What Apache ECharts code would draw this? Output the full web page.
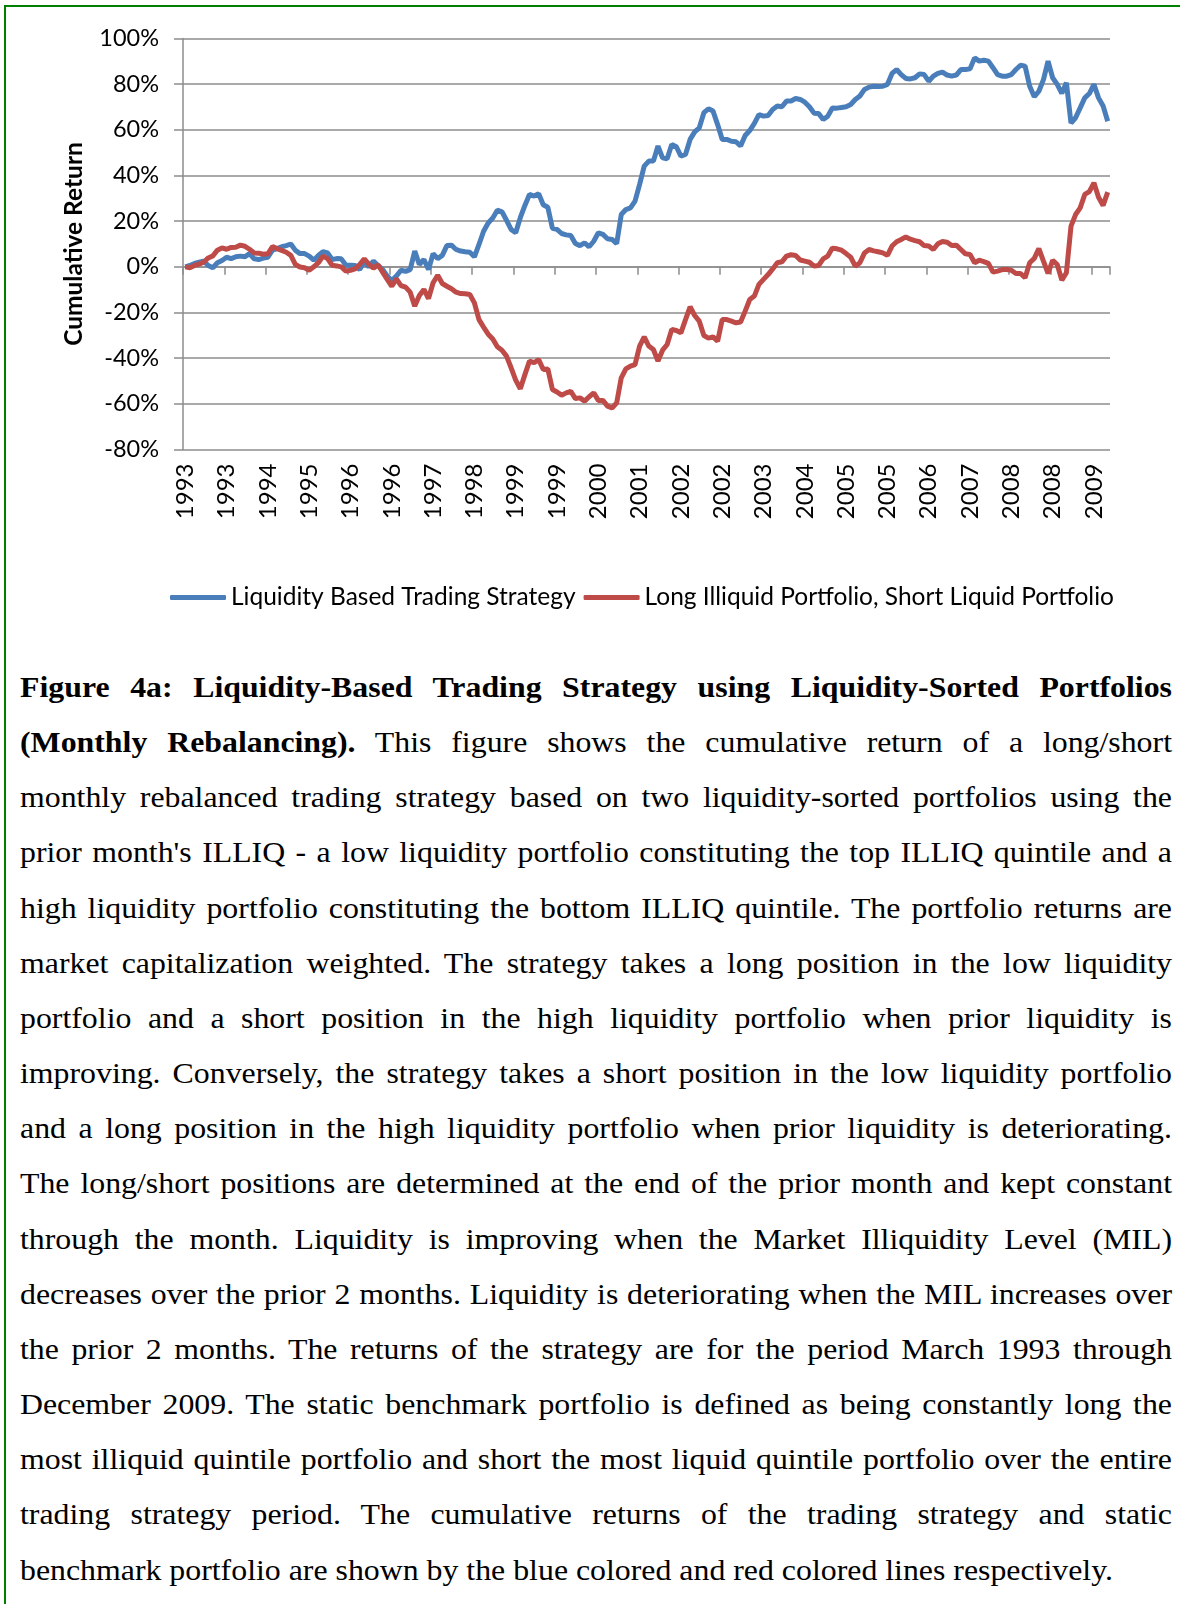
<!DOCTYPE html>
<html>
<head>
<meta charset="utf-8">
<script src="https://cdn.jsdelivr.net/npm/echarts@6.0.0/dist/echarts.min.js"></script>
<style>
  html, body { margin: 0; padding: 0; background: #fff; }
  body { width: 1180px; height: 1604px; position: relative; overflow: hidden; }
  #frame {
    position: absolute; left: 4px; top: 5px; width: 1200px; height: 1700px;
    border-left: 2px solid #008000; border-top: 2px solid #008000;
  }
  #chart { position: absolute; left: 0; top: 0; width: 1180px; height: 640px; }
  #cap {
    position: absolute; left: 20px; top: 660px; width: 1152px;
    font-family: 'Liberation Serif', 'Times New Roman', serif;
    font-size: 28.7px; line-height: 55.15px; color: #000;
  }
  #cap .ln { white-space: nowrap; transform-origin: 0 0; }
</style>
</head>
<body>
<div id="frame"></div>
<div id="chart"></div>
<div id="cap">
  <div class="ln"><span><b>Figure 4a: Liquidity-Based Trading Strategy using Liquidity-Sorted Portfolios</b></span></div>
  <div class="ln"><span><b>(Monthly Rebalancing).</b> This figure shows the cumulative return of a long/short</span></div>
  <div class="ln"><span>monthly rebalanced trading strategy based on two liquidity-sorted portfolios using the</span></div>
  <div class="ln"><span>prior month's ILLIQ - a low liquidity portfolio constituting the top ILLIQ quintile and a</span></div>
  <div class="ln"><span>high liquidity portfolio constituting the bottom ILLIQ quintile. The portfolio returns are</span></div>
  <div class="ln"><span>market capitalization weighted. The strategy takes a long position in the low liquidity</span></div>
  <div class="ln"><span>portfolio and a short position in the high liquidity portfolio when prior liquidity is</span></div>
  <div class="ln"><span>improving. Conversely, the strategy takes a short position in the low liquidity portfolio</span></div>
  <div class="ln"><span>and a long position in the high liquidity portfolio when prior liquidity is deteriorating.</span></div>
  <div class="ln"><span>The long/short positions are determined at the end of the prior month and kept constant</span></div>
  <div class="ln"><span>through the month. Liquidity is improving when the Market Illiquidity Level (MIL)</span></div>
  <div class="ln"><span>decreases over the prior 2 months. Liquidity is deteriorating when the MIL increases over</span></div>
  <div class="ln"><span>the prior 2 months. The returns of the strategy are for the period March 1993 through</span></div>
  <div class="ln"><span>December 2009. The static benchmark portfolio is defined as being constantly long the</span></div>
  <div class="ln"><span>most illiquid quintile portfolio and short the most liquid quintile portfolio over the entire</span></div>
  <div class="ln"><span>trading strategy period. The cumulative returns of the trading strategy and static</span></div>
  <div class="ln last"><span>benchmark portfolio are shown by the blue colored and red colored lines respectively.</span></div>
</div>
<script>
  // monthly observations, March 1993 .. December 2009 (202 months)
  var startYear = 1993, startMonth = 3, monthCount = 202;
  var months = [];
  for (var k = 0; k < monthCount; k++) {
    var m = startMonth - 1 + k;
    months.push(String(startYear + Math.floor(m / 12)));
  }

  // cumulative return, %
  var strategy = [
    0, 0.6, 1.5, 2, 2.5, 0.6, -0.4, 1.8, 2.8, 4.2,
    3.6, 4.4, 4.7, 4.4, 5.8, 3.5, 3.2, 3.8, 4.2, 7.3,
    8, 8.8, 9.3, 10, 7.2, 5.8, 5.8, 4.7, 2.9, 5,
    6.7, 6.1, 3.2, 3.6, 3.5, 0.7, 0.7, 0.6, -1.2, 2.2,
    0, 2.5, 0.6, -1.2, -4, -6, -4, -1.5, -2, -1.2,
    6.9, 1, 3.2, -1.2, 5.8, 3.6, 5, 9.3, 9.5, 7.6,
    6.9, 6.6, 6.4, 4.4, 9.8, 15.6, 19.2, 21.4, 24.8, 24.1,
    20.4, 16.4, 14.9, 21.5, 26.9, 31.7, 31, 32, 27.2, 26.1,
    16.9, 16.4, 14.6, 14, 13.7, 10.2, 9.3, 10.5, 8.8, 11.2,
    14.9, 14.2, 12.3, 12, 10.2, 22.9, 25.1, 25.8, 28.8, 36.1,
    44.1, 46.3, 46.3, 52.9, 47.7, 47.3, 53.6, 52.6, 48.5, 49.2,
    55.8, 59.1, 60.9, 67.5, 69.2, 68.2, 62.3, 55.8, 55.8, 55,
    54.8, 52.9, 57.5, 59.7, 62.8, 66.7, 66, 66.3, 68.9, 70.4,
    70.1, 72.6, 72.6, 73.7, 73.3, 72.1, 70.1, 67.3, 67.2, 64.5,
    66, 69.6, 69.5, 69.8, 70.1, 71.1, 73.3, 74.8, 77.7, 78.7,
    79.1, 79, 79.1, 79.9, 84.7, 86.4, 84.2, 82.5, 82.3, 82.8,
    84.5, 84.2, 81.3, 83.5, 84.7, 85.3, 84, 83.5, 84, 86.4,
    86.4, 86.7, 91.5, 90.1, 90.5, 90.1, 87.2, 84.2, 83.5, 83.5,
    84.2, 86.4, 88.3, 87.9, 79.1, 74.5, 76.9, 82, 90.1, 82.8,
    79.9, 76, 80.6, 63, 65.3, 69.6, 74, 75.9, 79.9, 74,
    70.4, 63.8
  ];
  var benchmark = [
    0, -0.4, 0.6, 1.2, 2, 3.9, 4.8, 7.3, 8.3, 7.7,
    8.5, 8.6, 9.5, 9, 7.7, 6.1, 6, 5.5, 5.7, 8.9,
    8, 7.2, 6.4, 5, 1, -0.1, -0.4, -1.5, 0, 1.8,
    4.7, 3.6, 0.7, 0.4, 0, -1.9, -1.5, -0.9, 1, 3.5,
    1.2, -0.6, 0.9, -2.3, -5.5, -8.5, -5.3, -8.2, -8.9, -11.1,
    -17.2, -12.6, -9.9, -13.9, -7, -3.7, -7.3, -8.5, -9.6, -11.1,
    -11.7, -11.8, -12.1, -15.8, -23.1, -26.4, -29.5, -31.6, -35, -36.5,
    -39.1, -44.2, -49.6, -53.4, -47.2, -41.3, -42, -40.6, -45, -44.7,
    -53.7, -54.8, -56.2, -55.2, -54.5, -57.7, -57.4, -58.8, -56.9, -55.2,
    -58.5, -58.5, -61, -61.8, -59.6, -48.6, -44.7, -43.5, -42.8, -34.7,
    -30.7, -34.7, -36.2, -41.3, -36.5, -34, -27.4, -27.9, -28.9, -23.1,
    -17.5, -21.3, -23.8, -30.1, -31.2, -30.7, -32.6, -23.1, -23.1, -23.8,
    -24.5, -24.2, -19.4, -14.3, -12.8, -7.7, -5.5, -3.4, -0.9, 1.8,
    2.2, 4.7, 5.3, 5, 3, 2.5, 2, 0.3, 0.6, 3.5,
    4.7, 8.2, 7.9, 7.3, 5.8, 4.2, 0.3, 1.8, 6.1, 7.6,
    7, 6.6, 6.1, 5, 9.1, 11, 12, 13.1, 12.1, 11.5,
    11, 9.3, 9.1, 7.6, 10.1, 11.1, 10.8, 9.3, 9.5, 7.6,
    5.7, 5.4, 1.8, 2.9, 2.3, 1.5, -2.3, -1.9, -1.2, -1.2,
    -1.5, -2.9, -2.9, -4.8, 1.8, 3.7, 8, 2.5, -2.9, 2.9,
    1, -5.8, -2.6, 17.8, 22.9, 25.8, 31.7, 32.9, 36.8, 30.5,
    26.9, 32.7
  ];

  var yMin = -80, yMax = 100, yStep = 20;
  var labelEvery = 9; // one year label every 9 months
  var gray = '#8c8c8c';
  var font = 'Lato';

  var chart = echarts.init(document.getElementById('chart'));
  chart.setOption({
    animation: false,
    grid: { left: 183, top: 38.5, width: 927, height: 411 },
    legend: {
      left: 165, top: 580,
      icon: 'roundRect', itemWidth: 56, itemHeight: 5, itemGap: 8,
      textStyle: { fontFamily: font, fontSize: 24.5, color: '#000' },
      data: ['Liquidity Based Trading Strategy', 'Long Illiquid Portfolio, Short Liquid Portfolio']
    },
    xAxis: [
      {
        type: 'category', data: months, position: 'bottom',
        axisLine: { show: false, onZero: false },
        axisTick: { show: false },
        axisLabel: {
          interval: labelEvery - 1, rotate: 90, margin: 14,
          fontFamily: font, fontSize: 24, color: '#000'
        },
        splitLine: { show: false }
      },
      {
        type: 'category', data: months, position: 'bottom',
        axisLine: { show: true, onZero: true, lineStyle: { color: gray, width: 1.5 } },
        axisTick: { show: true, interval: labelEvery - 1, length: 8, lineStyle: { color: gray, width: 1.5 } },
        axisLabel: { show: false },
        splitLine: { show: false }
      }
    ],
    yAxis: {
      type: 'value', min: yMin, max: yMax, interval: yStep,
      name: 'Cumulative Return', nameLocation: 'middle', nameGap: 96,
      nameTextStyle: { fontFamily: font, fontSize: 24.5, fontWeight: 'bold', color: '#000' },
      axisLine: { show: true, lineStyle: { color: gray, width: 1.5 } },
      axisTick: { show: true, length: 9, lineStyle: { color: gray, width: 1.5 } },
      axisLabel: {
        margin: 24, formatter: '{value}%',
        fontFamily: font, fontSize: 23.5, color: '#000'
      },
      splitLine: { show: true, lineStyle: { color: gray, width: 1.5 } }
    },
    series: [
      {
        name: 'Liquidity Based Trading Strategy', type: 'line', data: strategy,
        showSymbol: false, symbol: 'none',
        lineStyle: { color: '#4a7ebb', width: 5 }, itemStyle: { color: '#4a7ebb' }
      },
      {
        name: 'Long Illiquid Portfolio, Short Liquid Portfolio', type: 'line', data: benchmark,
        showSymbol: false, symbol: 'none',
        lineStyle: { color: '#be4b48', width: 5 }, itemStyle: { color: '#be4b48' }
      }
    ]
  });

  // the original caption is set a bit wider than plain Times: stretch it so the
  // unjustified last line matches, then spread the other lines to the full column
  function justify() {
    var width = 1152, lastWidth = 1093;
    var lines = document.querySelectorAll('#cap .ln');
    var last = document.querySelector('#cap .ln.last span');
    var sx = lastWidth / last.getBoundingClientRect().width;
    lines.forEach(function (ln) {
      ln.style.transform = 'scaleX(' + sx + ')';
      if (ln.classList.contains('last')) return;
      var span = ln.firstElementChild;
      var w = span.getBoundingClientRect().width / sx;
      var gaps = span.textContent.trim().split(/\s+/).length - 1;
      if (gaps > 0) ln.style.wordSpacing = ((width / sx - w) / gaps) + 'px';
    });
  }
  if (document.fonts && document.fonts.ready) document.fonts.ready.then(justify); else justify();
</script>
</body>
</html>
